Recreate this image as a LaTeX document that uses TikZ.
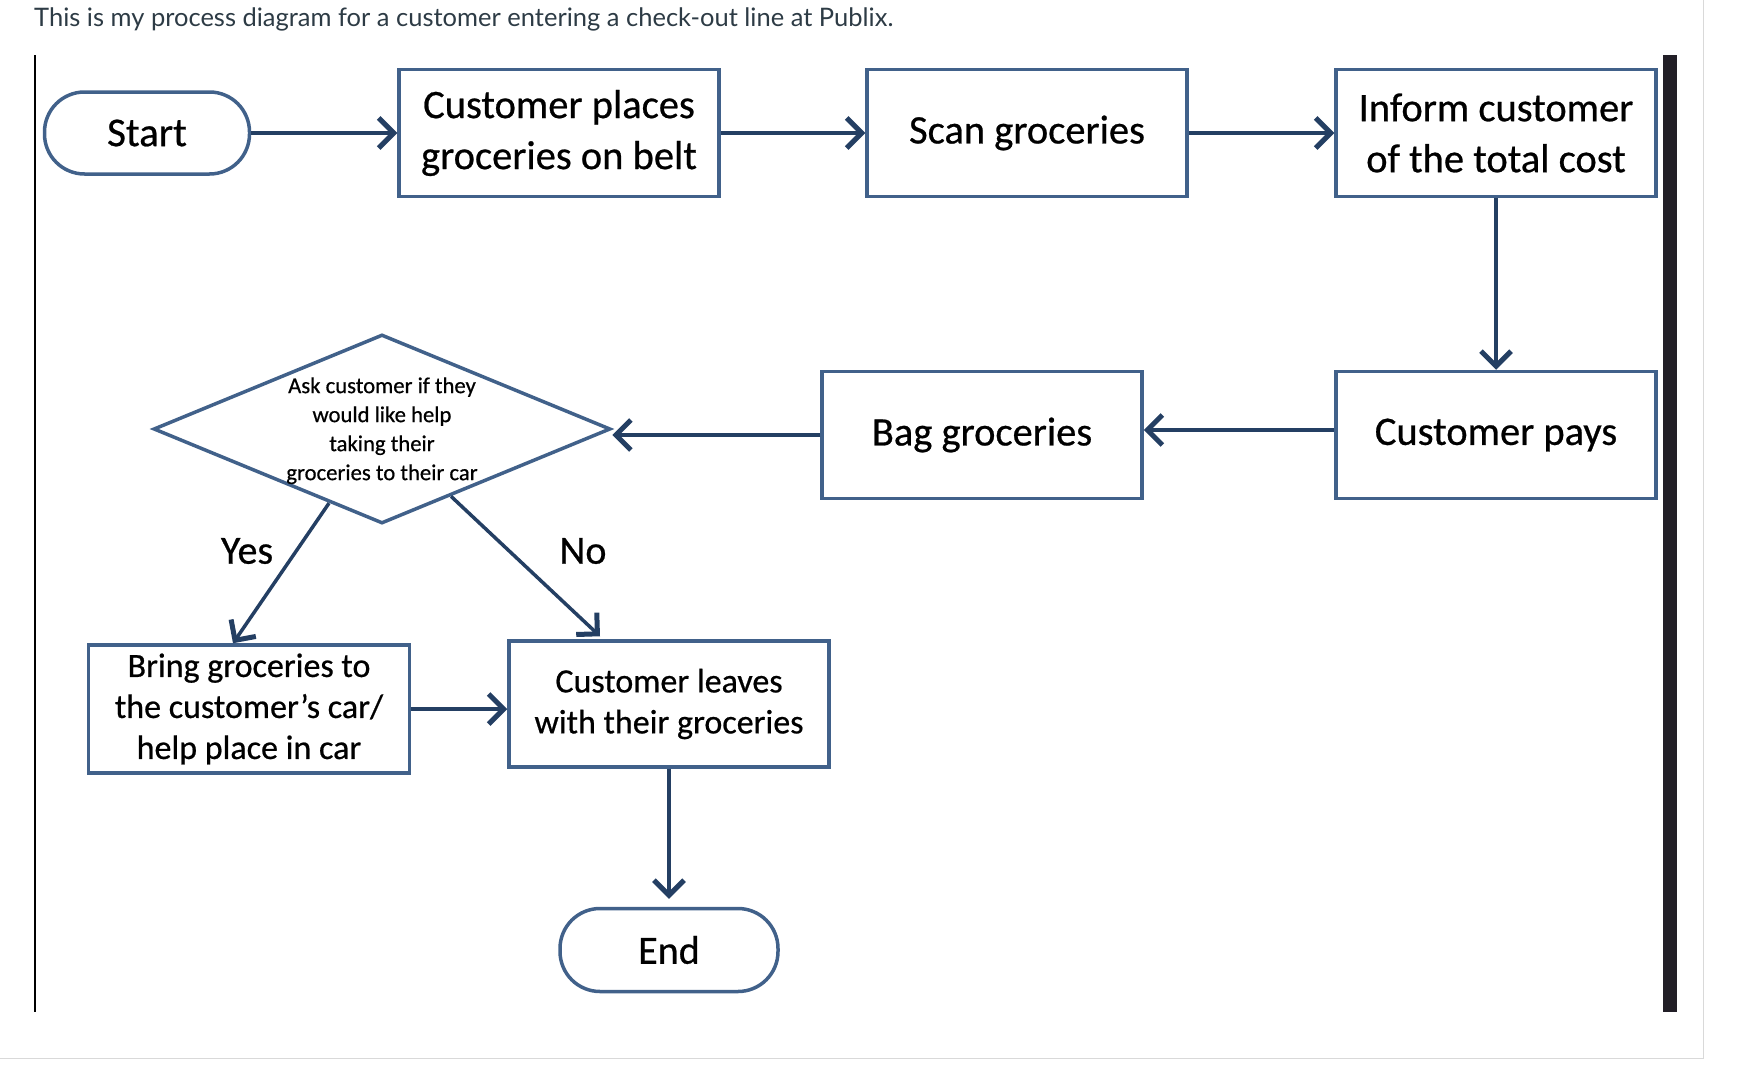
\documentclass[tikz,border=0pt]{standalone}
\usepackage{fontspec}
\setmainfont{Carlito}[FakeBold=0.6]
\newfontfamily\latofont{Lato}
\usetikzlibrary{arrows.meta,shapes.geometric,calc}
\definecolor{boxc}{HTML}{41618A}
\definecolor{arrc}{HTML}{243F63}
\definecolor{hdr}{HTML}{2D3B45}
\definecolor{barc}{HTML}{221F27}
\begin{document}
\begin{tikzpicture}[x=1pt,y=-1pt,
  proc/.style={draw=boxc,line width=3.5pt,minimum width=320pt,minimum height=127pt,align=center,inner sep=0pt,font=\fontsize{40.5}{51}\selectfont},
  procsm/.style={proc,font=\fontsize{34}{41}\selectfont},
  term/.style={draw=boxc,line width=3.5pt,rounded corners=40pt,minimum height=82pt,inner sep=0pt,font=\fontsize{41}{44}\selectfont},
  dia/.style={draw=boxc,line width=3.5pt,diamond,minimum width=457pt,minimum height=189pt,inner sep=0pt},
  conn/.style={draw=arrc,line width=3.5pt,-{Straight Barb[length=15pt,width=30pt,line width=5pt]}},
  lbl/.style={font=\fontsize{40}{44}\selectfont},
]
\useasboundingbox (0,0) rectangle (1738,1068);
% page frame
\draw[line width=2pt,black] (35,55) -- (35,1012);
\fill[barc] (1663,55) rectangle (1677,1012);
\draw[line width=1pt,black!15] (1703,0) -- (1703,1058) -- (0,1058);
\node[anchor=west,inner sep=0pt,font=\latofont\fontsize{25.5}{30}\selectfont,text=hdr] (title) at (34,19) {This is my process diagram for a customer entering a check-out line at Publix.};

\node[term,minimum width=205pt] (start) at (147,133) {Start};
\node[proc] (cp) at (559,133) {Customer places\\groceries on belt};
\node[proc] (scan) at (1027,133) {Scan groceries};
\node[proc] (inf) at (1496,133) {Inform customer\\of the total cost};
\node[proc] (pays) at (1496,435) {Customer pays};
\node[proc] (bag) at (982,435) {Bag groceries};
\node[dia] (dec) at (382,429) {\makebox[0pt]{\smash{\raisebox{-7pt}{\fontsize{22.7}{29}\selectfont\begin{tabular}{@{}c@{}}Ask customer if they\\would like help\\taking their\\groceries to their car\end{tabular}}}}};
\node[procsm,minimum width=321pt,minimum height=128pt] (bring) at (249,709) {Bring groceries to\\the customer’s car/\\help place in car};
\node[procsm,minimum height=126pt] (leaves) at (669,704) {Customer leaves\\with their groceries};
\node[term,minimum width=218pt,minimum height=83pt,font=\fontsize{40}{44}\selectfont] (end) at (669,950) {End};

\node[lbl] (yes) at (247,551) {Yes};
\node[lbl] (no) at (583,551) {No};

\draw[conn] (start) -- (cp);
\draw[conn] (cp) -- (scan);
\draw[conn] (scan) -- (inf);
\draw[conn] (inf) -- (pays);
\draw[conn] ([yshift=5pt]pays.west) -- ([yshift=5pt]bag.east);
\draw[conn] (bag.west) -- (bag.west -| dec.east);
\draw[conn] ($(dec.west)!0.77!(dec.south)$) -- ([xshift=-16pt]bring.north);
\draw[conn] ($(dec.south)!0.3!(dec.east)$) -- ([xshift=-69pt,yshift=3pt]leaves.north);
\draw[conn] (bring.east) -- (bring.east -| leaves.west);
\draw[conn] (leaves) -- ([yshift=8pt]end.north);
\end{tikzpicture}
\end{document}
